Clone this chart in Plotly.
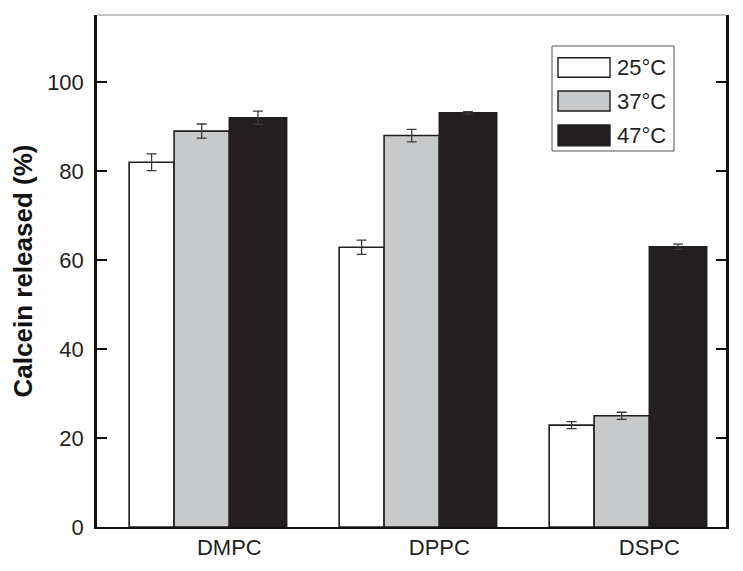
import plotly.graph_objects as go

categories = ["DMPC", "DPPC", "DSPC"]
series_names = ["25°C", "37°C", "47°C"]
values_25 = [82.0, 62.9, 22.9]
errors_25 = [1.9, 1.6, 0.8]
values_37 = [89.0, 88.0, 25.0]
errors_37 = [1.6, 1.4, 0.8]
values_47 = [92.0, 93.1, 63.0]
errors_47 = [1.5, 0.3, 0.6]
y_ticks = [0, 20, 40, 60, 80, 100]

fills = ["#ffffff", "#c8c9cb", "#231f20"]
widths = [0.214, 0.263, 0.273]
offsets = [-0.477, -0.263, 0.0]
ink = "#231f20"
font_family = "Arial, Liberation Sans, Helvetica, sans-serif"

xpos = list(range(len(categories)))
fig = go.Figure()
for name, vals, errs, fill, w, off in zip(
        series_names, [values_25, values_37, values_47],
        [errors_25, errors_37, errors_47], fills, widths, offsets):
    fig.add_trace(go.Bar(
        x=xpos, y=vals, name=name,
        width=[w] * len(xpos), offset=[off] * len(xpos),
        marker=dict(color=fill, line=dict(color=ink, width=1.6)),
        error_y=dict(type="data", array=errs, visible=True,
                     color="#3a3a3a", thickness=1.3, width=5),
        showlegend=False,
    ))

# page body has an 8px margin: figure origin sits at (8, 8) in the window
OFF = 8
L, R, T, B = 97 - OFF, 726 - OFF, 15 - OFF, 527 - OFF
W, H = 743 - OFF, 571 - OFF
def px(x):
    return (x - OFF - L) / (R - L)
def py(y):
    return (B - (y - OFF)) / (B - T)

shapes = [
    dict(type="line", xref="paper", yref="paper", x0=0, x1=1, y0=1, y1=1,
         line=dict(color="#8a8a8a", width=1)),
    dict(type="rect", xref="paper", yref="paper",
         x0=px(552), x1=px(674), y0=py(151), y1=py(46),
         line=dict(color="#555555", width=1), fillcolor="rgba(0,0,0,0)"),
]
annotations = []
rows = [(57.7, 77.3), (91, 111), (125, 145.7)]
for (t, b), fill, name in zip(rows, fills, series_names):
    shapes.append(dict(type="rect", xref="paper", yref="paper",
                       x0=px(558), x1=px(610), y0=py(b), y1=py(t),
                       line=dict(color=ink, width=1.4), fillcolor=fill))
    annotations.append(dict(xref="paper", yref="paper", x=px(615), y=py((t + b) / 2),
                            text=name, showarrow=False, xanchor="left", yanchor="middle",
                            font=dict(family=font_family, size=22, color=ink)))

fig.update_layout(
    width=W, height=H,
    margin=dict(l=L, r=W - R, t=T, b=H - B, autoexpand=False),
    paper_bgcolor="white", plot_bgcolor="white",
    barmode="overlay",
    font=dict(family=font_family, color=ink),
    shapes=shapes, annotations=annotations,
    showlegend=False,
)
fig.update_xaxes(
    range=[-0.630, 2.365], tickvals=xpos, ticktext=categories,
    showgrid=False, zeroline=False, ticks="", automargin=False,
    showline=True, linecolor="#111111", linewidth=2,
    tickfont=dict(size=22, color=ink),
)
fig.update_yaxes(
    range=[0, 115.1], tickvals=y_ticks, automargin=False,
    showgrid=False, zeroline=False,
    ticks="inside", ticklen=10, tickwidth=2, tickcolor="#111111",
    showline=True, linecolor="#111111", linewidth=2.5, mirror="ticks",
    tickfont=dict(size=22, color=ink), ticklabelstandoff=6,
    title=dict(text="<b>Calcein released (%)</b>", standoff=8,
               font=dict(size=26, color="#111111")),
)

fig.write_html("out.html")
